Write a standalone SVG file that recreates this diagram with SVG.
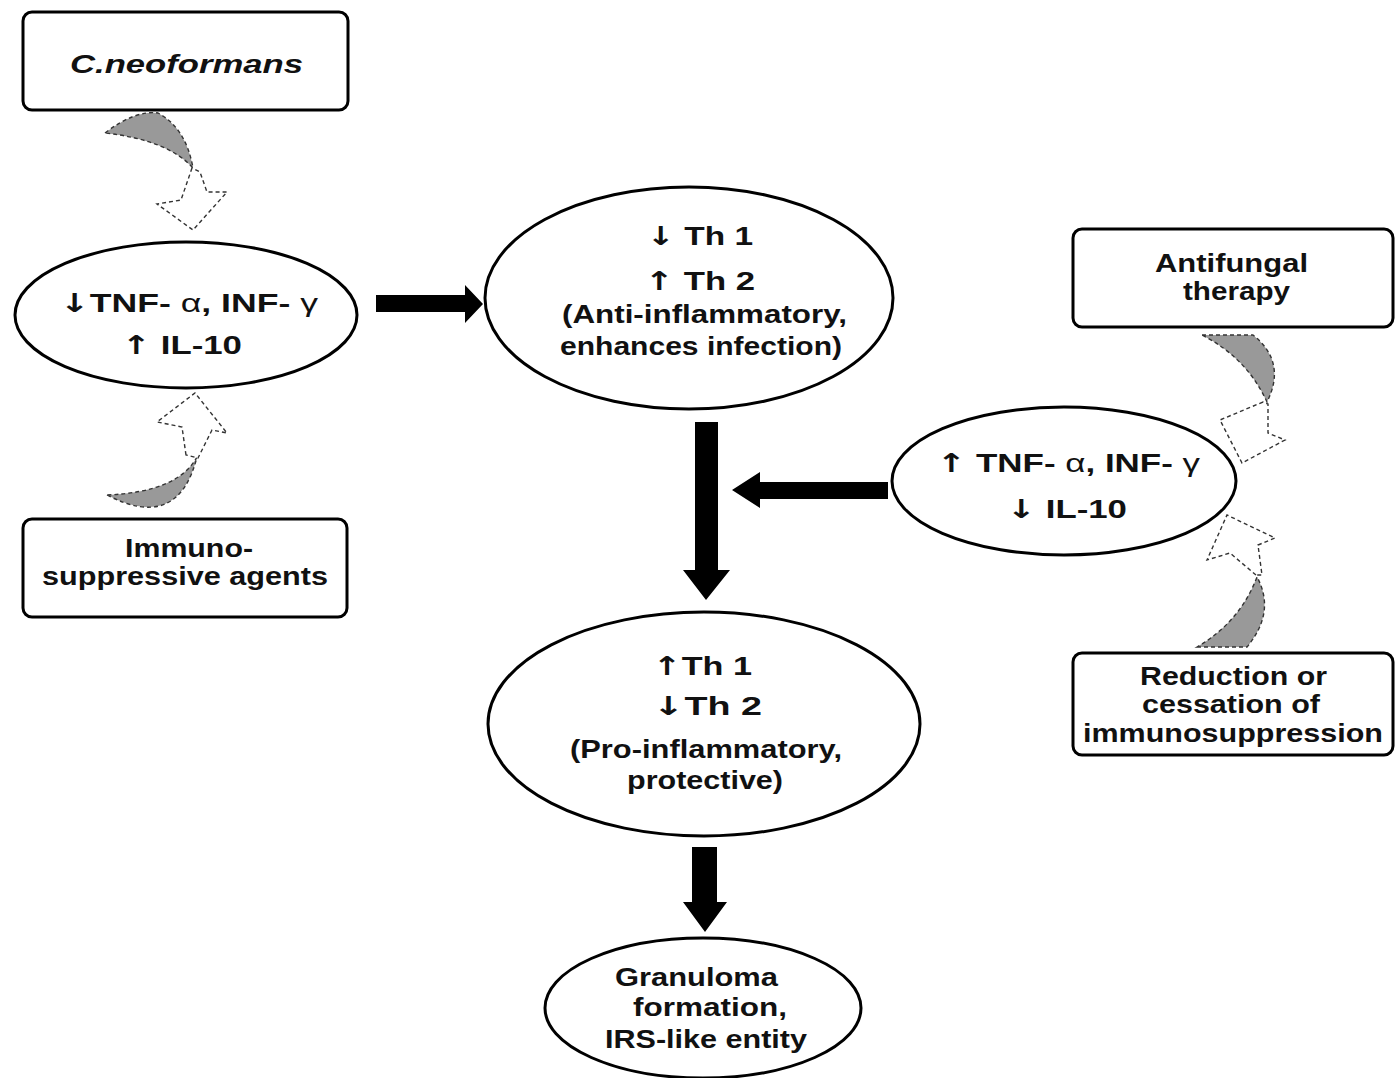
<svg xmlns="http://www.w3.org/2000/svg" width="1395" height="1078" viewBox="0 0 1395 1078">
<defs>
<style>
.box{fill:#fff;stroke:#000;stroke-width:3}
.ell{fill:#fff;stroke:#000;stroke-width:3}
.t{font-family:"Liberation Sans",Arial,sans-serif;font-weight:bold;font-size:26px;fill:#111}
.g{font-weight:normal}
.ar{font-family:"DejaVu Sans","Liberation Sans",sans-serif;font-weight:bold}
.blk{fill:#000}
.cres{fill:#999;stroke:#333;stroke-width:1.4;stroke-dasharray:4 3}
.hol{fill:#fff;stroke:#333;stroke-width:1.4;stroke-dasharray:4 3}
</style>
</defs>
<rect width="1395" height="1078" fill="#fff"/>

<g id="connectors">
  <path class="blk" d="M376,295 H465 V285 L483,304 L465,323 V312 H376 Z"/>
  <path class="blk" d="M695,422 H718 V570 H730 L706,600 L683,570 H695 Z"/>
  <path class="blk" d="M888,482 V499 H760 V508 L732,490 L760,472 V482 Z"/>
  <path class="blk" d="M692,847 H717 V902 H727 L705,932 L683,902 H692 Z"/>
  <g id="curved-arrow-1">
    <path class="cres" d="M105,133 Q135,110 158,113 Q186,128 193,168 Q168,140 105,133 Z"/>
    <polygon class="hol" points="192,168 181,200 157,204 193,230 227,192 207,192 200,172"/>
  </g>
  <g id="curved-arrow-2">
    <path class="cres" d="M107,495 Q178,532 197,457 Q178,492 107,495 Z"/>
    <polygon class="hol" points="186,455 182,427 157,422 195,393 227,433 212,430 198,458"/>
  </g>
  <g id="curved-arrow-3">
    <path class="cres" d="M1202,335 L1253,335 Q1287,362 1267,402 Q1247,358 1202,335 Z"/>
    <polygon class="hol" points="1263,402 1220,420 1242,463 1285,440 1268,433 1268,404"/>
  </g>
  <g id="curved-arrow-4">
    <path class="cres" d="M1197,647 L1247,647 Q1276,612 1257,577 Q1240,622 1197,647 Z"/>
    <polygon class="hol" points="1256,575 1230,553 1207,560 1227,515 1275,538 1258,545 1262,575"/>
  </g>
</g>

<g id="node-cneoformans">
  <rect class="box" x="23" y="12" width="325" height="98" rx="9"/>
  <text class="t" x="70" y="73" font-style="italic" font-weight="normal" font-size="29" textLength="233" lengthAdjust="spacingAndGlyphs">C.neoformans</text>
</g>

<g id="node-ellipse1">
  <ellipse class="ell" cx="186" cy="315" rx="171" ry="73"/>
  <text class="t" x="60" y="312" font-size="28" textLength="258" lengthAdjust="spacingAndGlyphs"><tspan class="ar">↓</tspan>TNF- <tspan class="g">α</tspan>, INF- <tspan class="g">γ</tspan></text>
  <text class="t" x="122" y="354" font-size="28" textLength="120" lengthAdjust="spacingAndGlyphs"><tspan class="ar">↑</tspan> IL-10</text>
</g>

<g id="node-immuno">
  <rect class="box" x="23" y="519" width="324" height="98" rx="9"/>
  <text class="t" x="125" y="557" font-size="24" textLength="128" lengthAdjust="spacingAndGlyphs">Immuno-</text>
  <text class="t" x="42" y="585" font-size="24" textLength="286" lengthAdjust="spacingAndGlyphs">suppressive agents</text>
</g>

<g id="node-th2up">
  <ellipse class="ell" cx="689" cy="298" rx="204" ry="111"/>
  <text class="t" x="647" y="245" font-size="28" textLength="106" lengthAdjust="spacingAndGlyphs"><tspan class="ar">↓</tspan> Th 1</text>
  <text class="t" x="645" y="290" font-size="28" textLength="110" lengthAdjust="spacingAndGlyphs"><tspan class="ar">↑</tspan> Th 2</text>
  <text class="t" x="562" y="323" font-size="26" textLength="285" lengthAdjust="spacingAndGlyphs">(Anti-inflammatory,</text>
  <text class="t" x="560" y="355" font-size="26" textLength="282" lengthAdjust="spacingAndGlyphs">enhances infection)</text>
</g>

<g id="node-th1up">
  <ellipse class="ell" cx="704" cy="724" rx="216" ry="112"/>
  <text class="t" x="653" y="675" font-size="28" textLength="99" lengthAdjust="spacingAndGlyphs"><tspan class="ar">↑</tspan>Th 1</text>
  <text class="t" x="653" y="715" font-size="28" textLength="109" lengthAdjust="spacingAndGlyphs"><tspan class="ar">↓</tspan>Th 2</text>
  <text class="t" x="570" y="758" font-size="26" textLength="272" lengthAdjust="spacingAndGlyphs">(Pro-inflammatory,</text>
  <text class="t" x="627" y="789" font-size="26" textLength="156" lengthAdjust="spacingAndGlyphs">protective)</text>
</g>

<g id="node-granuloma">
  <ellipse class="ell" cx="703" cy="1008" rx="158" ry="70"/>
  <text class="t" x="615" y="986" font-size="25" textLength="163" lengthAdjust="spacingAndGlyphs">Granuloma</text>
  <text class="t" x="633" y="1016" font-size="25" textLength="154" lengthAdjust="spacingAndGlyphs">formation,</text>
  <text class="t" x="605" y="1048" font-size="25" textLength="202" lengthAdjust="spacingAndGlyphs">IRS-like entity</text>
</g>

<g id="node-ellipse5">
  <ellipse class="ell" cx="1064" cy="481" rx="172" ry="74"/>
  <text class="t" x="937" y="472" font-size="28" textLength="263" lengthAdjust="spacingAndGlyphs"><tspan class="ar">↑</tspan> TNF- <tspan class="g">α</tspan>, INF- <tspan class="g">γ</tspan></text>
  <text class="t" x="1007" y="518" font-size="28" textLength="120" lengthAdjust="spacingAndGlyphs"><tspan class="ar">↓</tspan> IL-10</text>
</g>

<g id="node-antifungal">
  <rect class="box" x="1073" y="229" width="320" height="98" rx="9"/>
  <text class="t" x="1155" y="272" font-size="24" textLength="153" lengthAdjust="spacingAndGlyphs">Antifungal</text>
  <text class="t" x="1183" y="300" font-size="24" textLength="107" lengthAdjust="spacingAndGlyphs">therapy</text>
</g>

<g id="node-reduction">
  <rect class="box" x="1073" y="653" width="320" height="102" rx="9"/>
  <text class="t" x="1140" y="685" font-size="24" textLength="187" lengthAdjust="spacingAndGlyphs">Reduction or</text>
  <text class="t" x="1142" y="713" font-size="24" textLength="178" lengthAdjust="spacingAndGlyphs">cessation of</text>
  <text class="t" x="1083" y="742" font-size="24" textLength="300" lengthAdjust="spacingAndGlyphs">immunosuppression</text>
</g>
</svg>
